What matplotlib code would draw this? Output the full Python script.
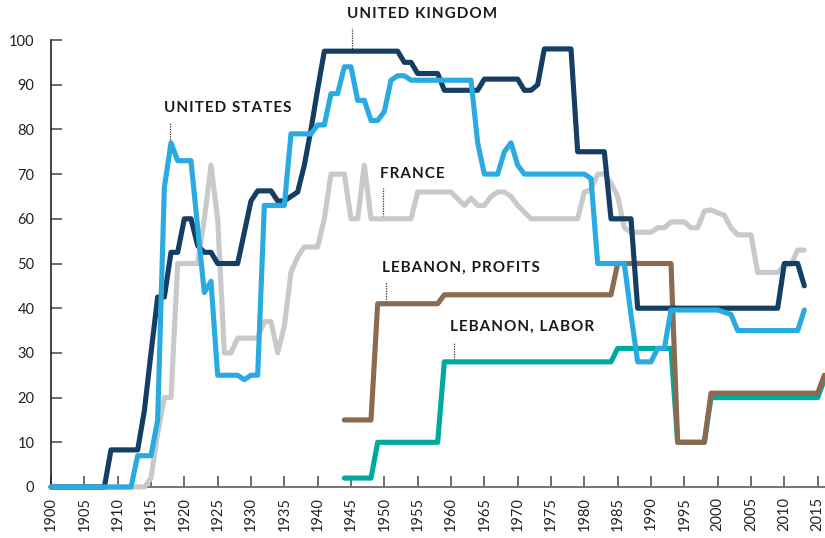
import matplotlib
matplotlib.use('Agg')
import matplotlib.pyplot as plt
import numpy as np

# top marginal tax rates
years = list(range(1900, 2014))
leb_years = list(range(1944, 2017))

us_rate = [
    0, 0, 0, 0, 0, 0, 0, 0, 0, 0,
    0, 0, 0, 7, 7, 7, 15, 67, 77, 73,
    73, 73, 58, 43.5, 46, 25, 25, 25, 25, 24,
    25, 25, 63, 63, 63, 63, 79, 79, 79, 79,
    81, 81, 88, 88, 94, 94, 86.5, 86.5, 82, 82,
    84, 91, 92, 92, 91, 91, 91, 91, 91, 91,
    91, 91, 91, 91, 77, 70, 70, 70, 75, 77,
    72, 70, 70, 70, 70, 70, 70, 70, 70, 70,
    70, 69, 50, 50, 50, 50, 50, 38.5, 28, 28,
    28, 31, 31, 39.6, 39.6, 39.6, 39.6, 39.6, 39.6, 39.6,
    39.6, 39.1, 38.6, 35, 35, 35, 35, 35, 35, 35,
    35, 35, 35, 39.6]

uk_rate = [
    0, 0, 0, 0, 0, 0, 0, 0, 0, 8.3,
    8.3, 8.3, 8.3, 8.3, 17, 30, 42.5, 42.5, 52.5, 52.5,
    60, 60, 54, 52.5, 52.5, 50, 50, 50, 50, 57,
    64, 66.25, 66.25, 66.25, 64, 64, 65, 66, 72, 80,
    89, 97.5, 97.5, 97.5, 97.5, 97.5, 97.5, 97.5, 97.5, 97.5,
    97.5, 97.5, 97.5, 95, 95, 92.5, 92.5, 92.5, 92.5, 88.75,
    88.75, 88.75, 88.75, 88.75, 88.75, 91.25, 91.25, 91.25, 91.25, 91.25,
    91.25, 88.75, 88.75, 90, 98, 98, 98, 98, 98, 75,
    75, 75, 75, 75, 60, 60, 60, 60, 40, 40,
    40, 40, 40, 40, 40, 40, 40, 40, 40, 40,
    40, 40, 40, 40, 40, 40, 40, 40, 40, 40,
    50, 50, 50, 45]

fr_rate = [
    0, 0, 0, 0, 0, 0, 0, 0, 0, 0,
    0, 0, 0, 0, 0, 2, 12, 20, 20, 50,
    50, 50, 50, 60, 72, 60, 30, 30, 33.3, 33.3,
    33.3, 33.3, 37, 37, 30, 36, 48, 51.5, 53.7, 53.7,
    53.7, 60, 70, 70, 70, 60, 60, 72, 60, 60,
    60, 60, 60, 60, 60, 66, 66, 66, 66, 66,
    66, 64.5, 63, 64.6, 63, 63, 65, 66, 66, 65,
    63, 61.5, 60, 60, 60, 60, 60, 60, 60, 60,
    66, 66.5, 70, 70, 68, 65, 58, 57, 57, 57,
    57, 58, 58, 59.3, 59.3, 59.3, 58, 58, 61.7, 62,
    61.3, 60.8, 58, 56.4, 56.4, 56.4, 48, 48, 48, 48,
    49.7, 49.7, 53, 53]

leb_profits = [
    15, 15, 15, 15, 15, 41,
    41, 41, 41, 41, 41, 41, 41, 41, 41, 43,
    43, 43, 43, 43, 43, 43, 43, 43, 43, 43,
    43, 43, 43, 43, 43, 43, 43, 43, 43, 43,
    43, 43, 43, 43, 43, 50, 50, 50, 50, 50,
    50, 50, 50, 50, 10, 10, 10, 10, 10, 21,
    21, 21, 21, 21, 21, 21, 21, 21, 21, 21,
    21, 21, 21, 21, 21, 21, 25]

leb_labor = [
    2, 2, 2, 2, 2, 10,
    10, 10, 10, 10, 10, 10, 10, 10, 10, 28,
    28, 28, 28, 28, 28, 28, 28, 28, 28, 28,
    28, 28, 28, 28, 28, 28, 28, 28, 28, 28,
    28, 28, 28, 28, 28, 31, 31, 31, 31, 31,
    31, 31, 31, 31, 10, 10, 10, 10, 10, 20,
    20, 20, 20, 20, 20, 20, 20, 20, 20, 20,
    20, 20, 20, 20, 20, 20, 24]

# label text, text x (year), text y, year where the dotted leader sits
labels = [
    ("UNITED KINGDOM", 1944.4, 105.9, 1945.1),
    ("UNITED STATES", 1917.0, 84.8, 1917.9),
    ("FRANCE", 1949.35, 70.1, 1949.8),
    ("LEBANON, PROFITS", 1949.65, 49.1, 1950.2),
    ("LEBANON, LABOR", 1959.85, 35.8, 1960.5),
]

plt.rcParams['font.family'] = ['Lato', 'DejaVu Sans']

fig = plt.figure(figsize=(8.25, 5.38), dpi=100)
ax = fig.add_axes([51 / 825, 51 / 538, 774 / 825, 447 / 538])

series = [
    (years, fr_rate, '#c8c9cb', 3),
    (leb_years, leb_labor, '#00a99d', 4),
    (leb_years, leb_profits, '#8b6a4f', 5),
    (years, uk_rate, '#153e64', 6),
    (years, us_rate, '#29abe2', 7),
]
for xs, ys, col, z in series:
    ax.plot(xs, ys, color=col, lw=3.7, zorder=z, clip_on=False,
            solid_capstyle='round', solid_joinstyle='round')

# dotted leaders, bottom taken from the series they point to
targets = [(years, uk_rate), (years, us_rate), (years, fr_rate),
           (leb_years, leb_profits), (leb_years, leb_labor)]
for (txt, tx, ty, lx), (xs, ys) in zip(labels, targets):
    bottom = np.interp(lx, xs, ys)
    ax.plot([lx, lx], [bottom, ty - 3.3], color='#333333', lw=0.9,
            linestyle=(0, (1, 1)), zorder=2, clip_on=False)
    ax.text(tx, ty, '\u200a'.join(txt), fontsize=11, fontweight='bold',
            color='#1a1a1a', ha='left', va='center', clip_on=False)

ax.set_xlim(1900, 2016.1)
ax.set_ylim(0, 100)
ax.set_xticks(range(1900, 2016, 5))
ax.set_yticks(range(0, 101, 10))
ax.set_xticklabels([str(y) for y in range(1900, 2016, 5)], rotation=90)

ax.spines['top'].set_visible(False)
ax.spines['right'].set_visible(False)
ax.spines['left'].set_color('#222222')
ax.spines['left'].set_linewidth(1.2)
ax.spines['bottom'].set_color('#777777')
ax.spines['bottom'].set_linewidth(1.5)

ax.tick_params(axis='y', direction='in', length=8, width=1.2, color='#555555',
               pad=12, labelsize=10.5, labelcolor='#222222')
ax.tick_params(axis='x', direction='in', length=8, width=1.2, color='#555555',
               pad=7, labelsize=10.5, labelcolor='#222222')

fig.savefig('out.png', dpi=100)
